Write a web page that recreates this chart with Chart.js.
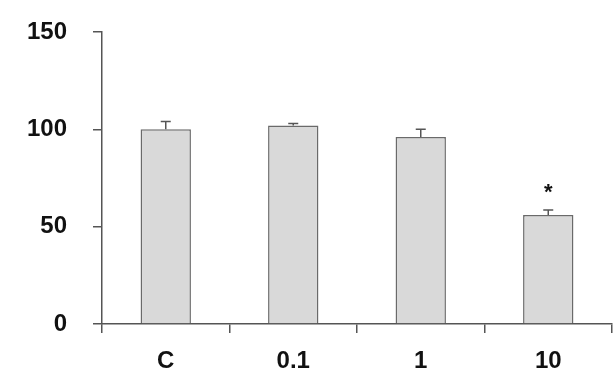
<!DOCTYPE html>
<html>
<head>
<meta charset="utf-8">
<script src="https://cdn.jsdelivr.net/npm/chart.js@4/dist/chart.umd.min.js"></script>
<style>
html,body{margin:0;padding:0;background:#fff;}
#wrap{width:614px;height:391px;position:relative;}
</style>
</head>
<body>
<div id="wrap"><canvas id="c" width="614" height="391"></canvas></div>
<script>
const categories = ['C', '0.1', '1', '10'];
const means = [100, 102, 96, 56];
const errors = [4, 1, 4, 2.5];
const significance = ['', '', '', '*'];
const yTicks = [0, 50, 100, 150];

const axisColor = '#555555';
const fontFamily = '"Liberation Sans", Arial, sans-serif';

const errorBarPlugin = {
  id: 'errorBars',
  afterDatasetsDraw(chart) {
    const ctx = chart.ctx;
    const meta = chart.getDatasetMeta(0);
    const y = chart.scales.y;
    ctx.save();
    ctx.strokeStyle = axisColor;
    ctx.lineWidth = 1.5;
    meta.data.forEach((bar, i) => {
      const top = y.getPixelForValue(means[i] + errors[i]);
      const base = y.getPixelForValue(means[i]);
      ctx.beginPath();
      ctx.moveTo(bar.x, base);
      ctx.lineTo(bar.x, top);
      ctx.moveTo(bar.x - 5, top);
      ctx.lineTo(bar.x + 5, top);
      ctx.stroke();
      if (significance[i]) {
        ctx.fillStyle = '#111';
        ctx.font = 'bold 22px ' + fontFamily;
        ctx.textAlign = 'center';
        ctx.textBaseline = 'middle';
        ctx.fillText(significance[i], bar.x, top - 17);
      }
    });
    ctx.restore();
  }
};

new Chart(document.getElementById('c'), {
  type: 'bar',
  data: {
    labels: categories,
    datasets: [{
      data: means,
      backgroundColor: '#d9d9d9',
      borderColor: '#6a6a6a',
      borderWidth: 1.5,
      borderSkipped: 'bottom',
      categoryPercentage: 1.0,
      barPercentage: 0.395
    }]
  },
  options: {
    responsive: false,
    animation: false,
    devicePixelRatio: 1,
    layout: { padding: { top: 32, right: 2, bottom: 0, left: 0 } },
    plugins: { legend: { display: false }, tooltip: { enabled: false } },
    scales: {
      x: {
        grid: { display: true, drawOnChartArea: false, drawTicks: true, tickLength: 9, color: axisColor, lineWidth: 1.5, offset: true },
        border: { display: true, color: axisColor, width: 1.5 },
        ticks: { color: '#111', font: { family: fontFamily, size: 24, weight: 'bold' }, padding: 14 },
        afterFit(scale) { scale.height = 67; scale.paddingLeft = 0; scale.paddingRight = 0; }
      },
      y: {
        min: 0, max: 150,
        afterBuildTicks(scale) { scale.ticks = yTicks.map(v => ({ value: v })); },
        grid: { display: true, drawOnChartArea: false, drawTicks: true, tickLength: 9, color: axisColor, lineWidth: 1.5 },
        border: { display: true, color: axisColor, width: 1.5 },
        ticks: { color: '#111', font: { family: fontFamily, size: 24, weight: 'bold' }, padding: 26 },
        afterFit(scale) { scale.width = 102; scale.paddingTop = 0; scale.paddingBottom = 0; }
      }
    }
  },
  plugins: [errorBarPlugin]
});
</script>
</body>
</html>
